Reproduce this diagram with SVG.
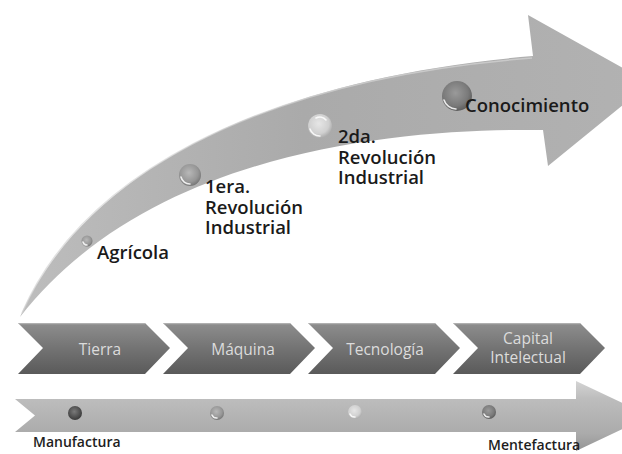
<svg xmlns="http://www.w3.org/2000/svg" width="622" height="454" viewBox="0 0 622 454">
  <defs>
    <linearGradient id="bandFill" x1="0" y1="0" x2="1" y2="0">
      <stop offset="0" stop-color="#bdbdbd"/>
      <stop offset="0.45" stop-color="#aaaaaa"/>
      <stop offset="1" stop-color="#b2b2b2"/>
    </linearGradient>
    <linearGradient id="barFill" x1="0" y1="0" x2="0" y2="1">
      <stop offset="0" stop-color="#d4d4d4"/>
      <stop offset="0.25" stop-color="#bdbdbd"/>
      <stop offset="0.75" stop-color="#ababab"/>
      <stop offset="1" stop-color="#949494"/>
    </linearGradient>
    <linearGradient id="chevFill" x1="0" y1="0" x2="0" y2="1">
      <stop offset="0" stop-color="#8e8e8e"/>
      <stop offset="0.5" stop-color="#737373"/>
      <stop offset="1" stop-color="#5a5a5a"/>
    </linearGradient>
    <radialGradient id="ballDark" cx="0.45" cy="0.4" r="0.6">
      <stop offset="0" stop-color="#9a9a9a"/>
      <stop offset="0.7" stop-color="#7a7a7a"/>
      <stop offset="1" stop-color="#5e5e5e"/>
    </radialGradient>
    <radialGradient id="ballMid" cx="0.45" cy="0.4" r="0.6">
      <stop offset="0" stop-color="#b8b8b8"/>
      <stop offset="0.7" stop-color="#969696"/>
      <stop offset="1" stop-color="#777777"/>
    </radialGradient>
    <radialGradient id="ballLight" cx="0.45" cy="0.4" r="0.6">
      <stop offset="0" stop-color="#e6e6e6"/>
      <stop offset="0.7" stop-color="#d0d0d0"/>
      <stop offset="1" stop-color="#acacac"/>
    </radialGradient>
    <radialGradient id="ballBlack" cx="0.45" cy="0.4" r="0.6">
      <stop offset="0" stop-color="#7a7a7a"/>
      <stop offset="0.7" stop-color="#4e4e4e"/>
      <stop offset="1" stop-color="#3a3a3a"/>
    </radialGradient>
    <path id="chevron" d="M0,0 H127 L152,25 L127,51 H0 L25,25 Z"/>
  </defs>
  <style>
    .lbl { font-family: "Open Sans", "Noto Sans", sans-serif; font-size: 18.5px; font-weight: 600; fill: #1a1a1a; }
    .chev-txt { font-family: "Open Sans", "Noto Sans", sans-serif; font-size: 15.5px; fill: #dcdcdc; text-anchor: middle; }
    .foot { font-family: "Open Sans", "Noto Sans", sans-serif; font-size: 14px; font-weight: 600; fill: #1e1e1e; }
    .shine { fill: none; stroke: #ffffff; stroke-width: 1.6; stroke-linecap: round; opacity: 0.85; }
    .rim { stroke: #b0b0b0; stroke-width: 1.2; }
  </style>

  <rect width="622" height="454" fill="#ffffff"/>

  <!-- arrows: the rising curve and the straight base bar -->
  <g id="connectors">
    <path id="curved-arrow" fill="url(#bandFill)"
          d="M20,317 C80,180 250,80 533,56 L528,15 L650,83 L548,166 L543,130 C400,128 150,150 20,317 Z"/>
    <path d="M22,313 C80,180 250,80 532,58" fill="none" stroke="#d4d4d4" stroke-width="1.5" opacity="0.7"/>
    <path id="base-arrow" fill="url(#barFill)"
          d="M15,399 H576 V381 L650,416 L576,451 V432 H15 L35,415.5 Z"/>
  </g>

  <!-- milestones along the curve -->
  <g id="agricola">
    <circle cx="87" cy="241" r="5.5" fill="url(#ballMid)"/>
    <path class="shine" d="M83,242 A4,4 0 0 0 87,245" stroke-width="1"/>
    <text class="lbl" x="97" y="259">Agrícola</text>
  </g>
  <g id="primera-revolucion">
    <circle cx="190" cy="175" r="11" fill="url(#ballMid)"/>
    <path class="shine" d="M181,177 A9,9 0 0 0 190,184"/>
    <text class="lbl" x="205" y="193">1era.<tspan x="205" dy="20.5">Revolución</tspan><tspan x="205" dy="20.5">Industrial</tspan></text>
  </g>
  <g id="segunda-revolucion">
    <circle cx="320" cy="126" r="12" fill="url(#ballLight)"/>
    <path class="shine" d="M310,129 A10,10 0 0 0 320,136"/>
    <path class="shine" d="M316,118 A8,8 0 0 1 326,120"/>
    <text class="lbl" x="338" y="143">2da.<tspan x="338" dy="20.5">Revolución</tspan><tspan x="338" dy="20.5">Industrial</tspan></text>
  </g>
  <g id="conocimiento">
    <circle cx="457" cy="96" r="15" fill="url(#ballDark)"/>
    <path class="shine" d="M444,100 A13,13 0 0 0 456,109"/>
    <text class="lbl" x="465" y="112">Conocimiento</text>
  </g>

  <!-- chevron process -->
  <g id="tierra">
    <use href="#chevron" x="18" y="323" fill="url(#chevFill)"/>
    <path class="rim" d="M19,323.6 H145"/>
    <text class="chev-txt" x="100" y="355">Tierra</text>
  </g>
  <g id="maquina">
    <use href="#chevron" x="163" y="323" fill="url(#chevFill)"/>
    <path class="rim" d="M164,323.6 H290"/>
    <text class="chev-txt" x="243" y="355">Máquina</text>
  </g>
  <g id="tecnologia">
    <use href="#chevron" x="308" y="323" fill="url(#chevFill)"/>
    <path class="rim" d="M309,323.6 H435"/>
    <text class="chev-txt" x="385" y="355">Tecnología</text>
  </g>
  <g id="capital-intelectual">
    <use href="#chevron" x="453" y="323" fill="url(#chevFill)"/>
    <path class="rim" d="M454,323.6 H580"/>
    <text class="chev-txt" x="528" y="344">Capital<tspan x="528" dy="19">Intelectual</tspan></text>
  </g>

  <!-- markers on the base bar -->
  <g id="base-markers">
    <circle cx="75" cy="413" r="7" fill="url(#ballBlack)"/>
    <circle cx="217" cy="413" r="7" fill="url(#ballMid)"/>
    <path class="shine" d="M212,415 A5,5 0 0 0 217,418" stroke-width="1.2"/>
    <circle cx="355" cy="412" r="7" fill="url(#ballLight)"/>
    <path class="shine" d="M350,414 A5,5 0 0 0 355,417" stroke-width="1.2"/>
    <circle cx="489" cy="412" r="7" fill="url(#ballDark)"/>
    <path class="shine" d="M484,414 A5,5 0 0 0 489,417" stroke-width="1.2"/>
  </g>
  <g id="manufactura">
    <text class="foot" x="33" y="447">Manufactura</text>
  </g>
  <g id="mentefactura">
    <text class="foot" x="488" y="450">Mentefactura</text>
  </g>
</svg>
